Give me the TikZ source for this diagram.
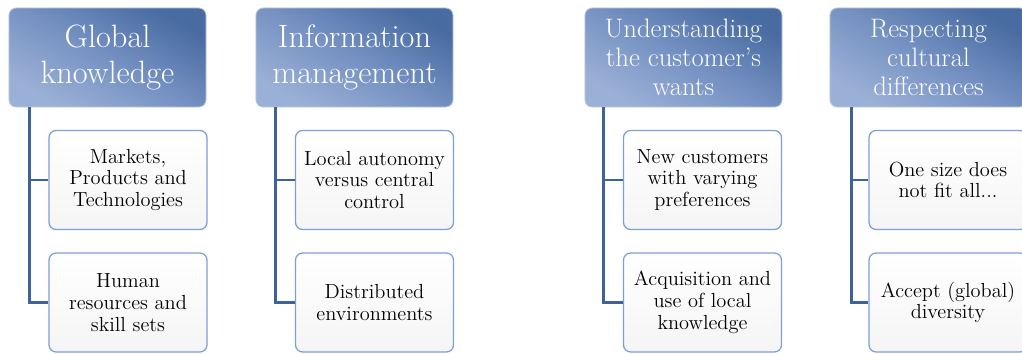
\documentclass[tikz,border=0pt]{standalone}
\definecolor{hdrdark}{HTML}{486BA1}
\definecolor{hdrmid}{HTML}{7591C2}
\definecolor{hdrlight}{HTML}{9BB0D6}
\definecolor{hdredge}{HTML}{B7C7E3}
\definecolor{subedge}{HTML}{7E9ED6}
\definecolor{linkblue}{HTML}{3F6298}
\tikzset{
  hdr/.style={draw=hdredge, line width=0.6pt, rounded corners=0.18cm,
    top color=hdrdark, bottom color=hdrlight, middle color=hdrmid,
    shading angle=-30,
    text=white, align=center, inner sep=0pt,
    minimum width=4.925cm, minimum height=2.475cm},
  sub/.style={draw=subedge, line width=0.9pt, rounded corners=0.18cm,
    top color=white, bottom color=black!4, align=center, inner sep=0pt,
    minimum width=3.95cm, minimum height=2.475cm,
    font=\fontsize{14.5}{15.5}\selectfont},
  link/.style={draw=linkblue, line width=2.1pt},
  bigtxt/.style={font=\fontsize{23}{25}\selectfont},
  smalltxt/.style={font=\fontsize{19}{20.5}\selectfont},
}
\begin{document}
\begin{tikzpicture}[x=0.025cm, y=-0.025cm]
  \useasboundingbox (0,0) rectangle (1022,354);

  % headers
  \node[hdr, bigtxt] (glob) at (107.5, 57.5) {Global\\knowledge};
  \node[hdr, bigtxt] (info) at (354.5, 57.5) {Information\\management};
  \node[hdr, smalltxt] (cust) at (683.5, 57.5) {Understanding\\the customer’s\\wants};
  \node[hdr, smalltxt] (cult) at (928.5, 57.5) {Respecting\\cultural\\differences};

  % sub items
  \node[sub] (glob1) at (128, 180) {Markets,\\Products and\\Technologies};
  \node[sub] (glob2) at (128, 302.5) {Human\\resources and\\skill sets};
  \node[sub] (info1) at (374.5, 180) {Local autonomy\\versus central\\control};
  \node[sub] (info2) at (374.5, 302.5) {Distributed\\environments};
  \node[sub] (cust1) at (702.5, 180) {New customers\\with varying\\preferences};
  \node[sub] (cust2) at (702.5, 302.5) {Acquisition and\\use of local\\knowledge};
  \node[sub] (cult1) at (948, 180) {One size does\\not fit all...};
  \node[sub] (cult2) at (948, 302.5) {Accept (global)\\diversity};

  % connectors
  \draw[link] ([xshift=0.525cm]glob.south west) |- (glob1.west);
  \draw[link] ([xshift=0.525cm]glob.south west) |- (glob2.west);
  \draw[link] ([xshift=0.5cm]info.south west) |- (info1.west);
  \draw[link] ([xshift=0.5cm]info.south west) |- (info2.west);
  \draw[link] ([xshift=0.475cm]cust.south west) |- (cust1.west);
  \draw[link] ([xshift=0.475cm]cust.south west) |- (cust2.west);
  \draw[link] ([xshift=0.55cm]cult.south west) |- (cult1.west);
  \draw[link] ([xshift=0.55cm]cult.south west) |- (cult2.west);
\end{tikzpicture}
\end{document}
